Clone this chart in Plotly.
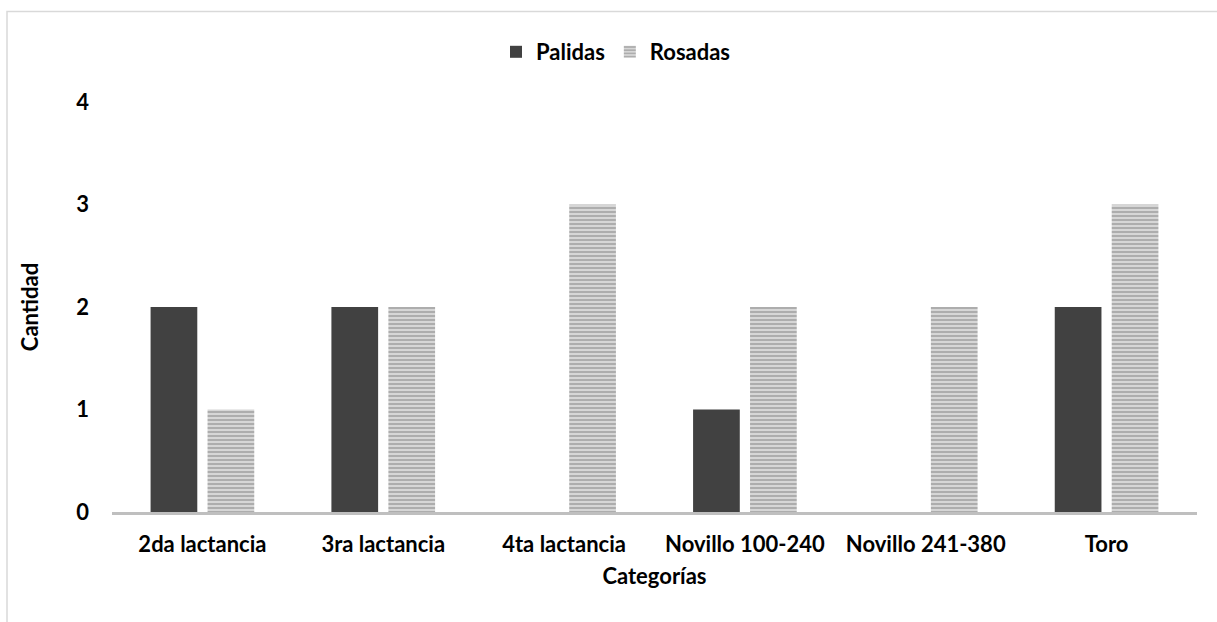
import plotly.graph_objects as go

# Categories and counts per series
categorias = ["2da lactancia", "3ra lactancia", "4ta lactancia",
              "Novillo 100-240", "Novillo 241-380", "Toro"]
palidas = [2, 2, 0, 1, 0, 2]
rosadas = [1, 2, 3, 2, 2, 3]
y_ticks = [0, 1, 2, 3, 4]

W, H = 1217, 622
L, R, T, B = 112, 20, 102, 110
plot_w = W - L - R
plot_h = H - T - B

FONT = "Lato"
FS = 22
TXT = dict(family=FONT, size=FS, color="black", weight="bold")

fig = go.Figure()
fig.add_trace(go.Bar(
    name="Palidas", x=categorias, y=palidas,
    marker=dict(color="#414141", line=dict(width=0)),
))
fig.add_trace(go.Bar(
    name="Rosadas", x=categorias, y=rosadas,
    marker=dict(
        color="#d4d4d4",
        line=dict(width=0),
        pattern=dict(shape="-", bgcolor="#d6d6d6", fgcolor="#a9a9a9",
                     size=4, solidity=0.45, fillmode="replace"),
    ),
))


def px_to_paper_x(px):
    return (px - L) / plot_w


def px_to_paper_y(py):
    return (H - B - py) / plot_h


# Outer chart frame (left and top edges visible)
fig.add_shape(type="rect", xref="paper", yref="paper",
              x0=px_to_paper_x(7), x1=px_to_paper_x(W + 20),
              y0=px_to_paper_y(H + 20), y1=px_to_paper_y(11.5),
              line=dict(color="#d9d9d9", width=1.5), layer="below")

fig.update_layout(
    width=W, height=H,
    margin=dict(l=L, r=R, t=T, b=B, autoexpand=False),
    paper_bgcolor="white", plot_bgcolor="white",
    barmode="group", bargap=0.37, bargroupgap=0.18,
    font=TXT,
    showlegend=True,
    legend=dict(orientation="h", x=px_to_paper_x(616), xanchor="center",
                y=px_to_paper_y(52), yanchor="middle",
                font=TXT, itemwidth=30, tracegroupgap=0,
                bgcolor="rgba(0,0,0,0)"),
    xaxis=dict(
        showline=True, linecolor="#bfbfbf", linewidth=3,
        showgrid=False, ticks="", ticklabelstandoff=11,
        tickfont=TXT,
        title=dict(text="Categorías", standoff=13, font=TXT),
    ),
    yaxis=dict(
        range=[0, 4], tickvals=y_ticks, showgrid=False, zeroline=False,
        showline=False, ticks="", ticklabelstandoff=22,
        tickfont=TXT,
        title=dict(text="Cantidad", standoff=31, font=TXT),
    ),
)

fig.write_html("out.html")
